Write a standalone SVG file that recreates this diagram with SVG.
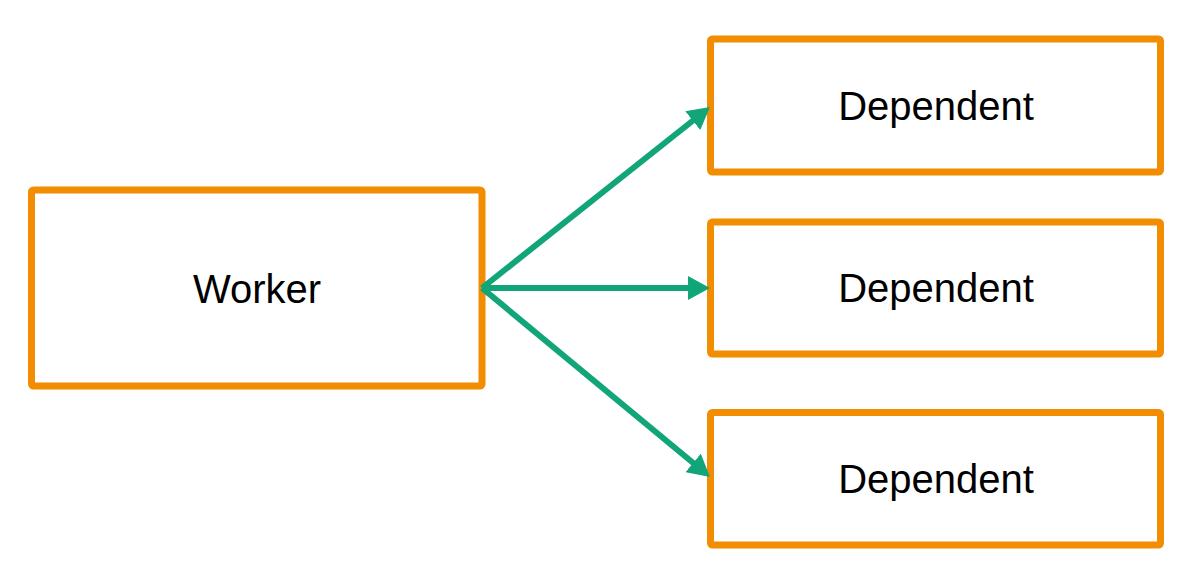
<svg xmlns="http://www.w3.org/2000/svg" width="1200" height="580" viewBox="0 0 1200 580">
<style>
.box{fill:#ffffff;stroke:#F28C00;stroke-width:7}
.lbl{font-family:"Liberation Sans",Arial,sans-serif;font-size:40px;fill:#000000;text-anchor:middle}
.conn{stroke:#12A57A;stroke-width:6;fill:none}
</style>
<defs>
<marker id="arr" markerUnits="userSpaceOnUse" markerWidth="22" markerHeight="24" refX="10" refY="12" orient="auto">
<path d="M0,0 L22,12 L0,24 z" fill="#12A57A"/>
</marker>
</defs>
<rect width="1200" height="580" fill="#ffffff"/>
<g id="worker">
<rect class="box" x="31.5" y="190" width="450.5" height="196" rx="2"/>
<text class="lbl" x="257" y="302.5">Worker</text>
</g>
<g id="dependent1">
<rect class="box" x="710.5" y="39" width="450" height="133" rx="2"/>
<text class="lbl" x="936" y="119.5">Dependent</text>
</g>
<g id="dependent2">
<rect class="box" x="710.5" y="222" width="450" height="132" rx="2"/>
<text class="lbl" x="936" y="302">Dependent</text>
</g>
<g id="dependent3">
<rect class="box" x="710.5" y="412.5" width="450" height="132.5" rx="2"/>
<text class="lbl" x="936" y="493">Dependent</text>
</g>
<g id="connectors">
<line class="conn" x1="482" y1="288" x2="700.6" y2="114.5" marker-end="url(#arr)"/>
<line class="conn" x1="482" y1="288" x2="698" y2="288" marker-end="url(#arr)"/>
<line class="conn" x1="482" y1="288" x2="700.8" y2="469.3" marker-end="url(#arr)"/>
</g>
</svg>
